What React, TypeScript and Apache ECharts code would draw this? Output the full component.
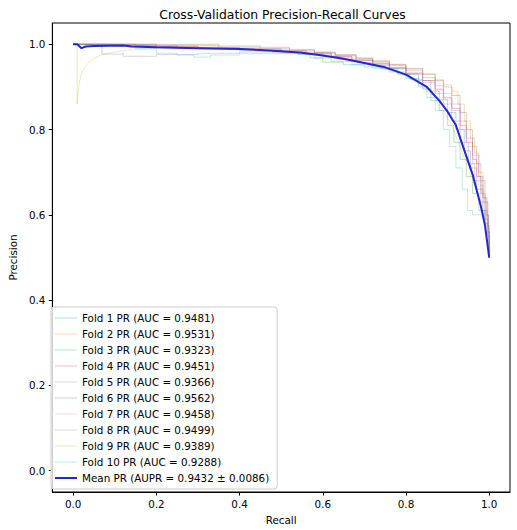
import React, { useEffect, useRef } from "react";
import * as echarts from "echarts";

// Per-fold precision/recall points as [recall, precision]
const fold1: number[][] = [[0,1],[0.05,1],[0.1,0.998],[0.18,0.995],[0.25,0.992],[0.33,0.99],[0.4,0.988],[0.45,0.986],[0.5,0.982],[0.55,0.978],[0.6,0.972],[0.64,0.965],[0.68,0.958],[0.72,0.95],[0.76,0.943],[0.8,0.93],[0.83,0.915],[0.86,0.89],[0.88,0.87],[0.9,0.84],[0.92,0.8],[0.94,0.75],[0.955,0.71],[0.97,0.66],[0.985,0.61],[0.995,0.575],[1,0.5]];
const fold2: number[][] = [[0,1],[0.08,1],[0.15,0.997],[0.25,0.994],[0.35,0.99],[0.45,0.987],[0.52,0.984],[0.58,0.979],[0.63,0.973],[0.68,0.966],[0.72,0.96],[0.76,0.952],[0.8,0.942],[0.84,0.93],[0.87,0.917],[0.89,0.905],[0.91,0.89],[0.925,0.86],[0.94,0.82],[0.955,0.78],[0.965,0.745],[0.975,0.7],[0.985,0.64],[0.993,0.59],[0.998,0.555],[1,0.5]];
const fold3: number[][] = [[0,1],[0.06,1],[0.12,0.997],[0.2,0.994],[0.3,0.99],[0.4,0.986],[0.48,0.982],[0.54,0.977],[0.57,0.968],[0.6,0.958],[0.65,0.952],[0.7,0.947],[0.74,0.942],[0.78,0.93],[0.81,0.918],[0.84,0.895],[0.86,0.868],[0.88,0.845],[0.9,0.81],[0.915,0.77],[0.93,0.73],[0.945,0.69],[0.96,0.65],[0.975,0.61],[0.99,0.58],[0.997,0.55],[1,0.5]];
const fold4: number[][] = [[0,1],[0.1,1],[0.2,0.996],[0.3,0.992],[0.4,0.989],[0.5,0.985],[0.56,0.98],[0.62,0.972],[0.67,0.963],[0.72,0.955],[0.76,0.945],[0.8,0.932],[0.84,0.915],[0.87,0.895],[0.89,0.875],[0.91,0.85],[0.93,0.81],[0.945,0.77],[0.96,0.73],[0.97,0.69],[0.98,0.65],[0.99,0.6],[0.997,0.56],[1,0.5]];
const fold5: number[][] = [[0,1],[0.069,0.997],[0.069,0.977],[0.12,0.979],[0.12,0.972],[0.2,0.976],[0.3,0.979],[0.4,0.982],[0.5,0.981],[0.56,0.977],[0.62,0.97],[0.67,0.962],[0.72,0.953],[0.76,0.944],[0.8,0.93],[0.84,0.91],[0.87,0.885],[0.89,0.86],[0.91,0.82],[0.93,0.77],[0.95,0.72],[0.965,0.68],[0.98,0.63],[0.99,0.59],[0.997,0.55],[1,0.5]];
const fold6: number[][] = [[0,1],[0.3,1],[0.35,0.996],[0.45,0.993],[0.52,0.988],[0.58,0.982],[0.63,0.976],[0.68,0.968],[0.72,0.961],[0.76,0.953],[0.8,0.943],[0.84,0.93],[0.87,0.915],[0.89,0.9],[0.91,0.88],[0.93,0.84],[0.945,0.8],[0.96,0.76],[0.97,0.72],[0.98,0.68],[0.99,0.63],[0.997,0.57],[1,0.5]];
const fold7: number[][] = [[0,1],[0.12,1],[0.2,0.995],[0.3,0.992],[0.4,0.989],[0.5,0.984],[0.56,0.979],[0.62,0.971],[0.67,0.963],[0.72,0.954],[0.76,0.945],[0.8,0.933],[0.84,0.915],[0.87,0.893],[0.89,0.872],[0.91,0.845],[0.93,0.8],[0.945,0.76],[0.96,0.72],[0.975,0.67],[0.985,0.63],[0.995,0.6],[0.998,0.56],[1,0.5]];
const fold8: number[][] = [[0,1],[0.15,0.998],[0.25,0.997],[0.35,0.993],[0.45,0.99],[0.52,0.986],[0.58,0.98],[0.63,0.974],[0.68,0.966],[0.72,0.958],[0.76,0.95],[0.8,0.938],[0.84,0.922],[0.87,0.903],[0.89,0.885],[0.91,0.86],[0.93,0.82],[0.945,0.78],[0.96,0.74],[0.975,0.69],[0.985,0.64],[0.995,0.6],[0.998,0.56],[1,0.5]];
const fold9: number[][] = [[0,1],[0.0095,1],[0.0095,0.86],[0.012,0.89],[0.016,0.915],[0.02,0.93],[0.025,0.942],[0.035,0.955],[0.05,0.967],[0.07,0.976],[0.1,0.982],[0.125,0.986],[0.2,0.99],[0.3,0.99],[0.4,0.989],[0.45,0.987],[0.52,0.983],[0.58,0.976],[0.63,0.968],[0.68,0.958],[0.72,0.95],[0.76,0.94],[0.8,0.925],[0.84,0.9],[0.87,0.87],[0.89,0.845],[0.91,0.81],[0.93,0.76],[0.95,0.71],[0.965,0.67],[0.98,0.62],[0.99,0.59],[0.997,0.55],[1,0.5]];
const fold10: number[][] = [[0,1],[0.08,0.998],[0.15,0.99],[0.2,0.979],[0.25,0.975],[0.29,0.97],[0.33,0.975],[0.4,0.978],[0.48,0.979],[0.54,0.976],[0.58,0.968],[0.62,0.96],[0.67,0.952],[0.72,0.944],[0.76,0.935],[0.8,0.92],[0.83,0.9],[0.85,0.875],[0.87,0.845],[0.89,0.8],[0.905,0.76],[0.92,0.71],[0.935,0.66],[0.948,0.61],[0.96,0.6],[0.985,0.598],[0.99,0.56],[1,0.5]];

// Mean curve over the interpolated recall grid
const meanPR: number[][] = [[0,1],[0.01,1],[0.02,0.991],[0.03,0.995],[0.05,0.996],[0.12,0.997],[0.14,0.995],[0.2,0.993],[0.3,0.991],[0.4,0.989],[0.5,0.984],[0.55,0.98],[0.6,0.974],[0.65,0.966],[0.7,0.956],[0.75,0.946],[0.8,0.929],[0.85,0.9],[0.88,0.868],[0.9,0.842],[0.92,0.81],[0.94,0.752],[0.96,0.695],[0.98,0.62],[0.99,0.575],[1,0.5]];

const foldAUC: string[] = ["0.9481","0.9531","0.9323","0.9451","0.9366","0.9562","0.9458","0.9499","0.9389","0.9288"];
const meanAUPR = "0.9432";
const stdAUPR = "0.0086";
const foldColors: string[] = ["#1f77b4","#ff7f0e","#2ca02c","#d62728","#9467bd","#8c564b","#e377c2","#7f7f7f","#bcbd22","#17becf"];
const tickValues: number[] = [0, 0.2, 0.4, 0.6, 0.8, 1.0];

const folds = [fold1, fold2, fold3, fold4, fold5, fold6, fold7, fold8, fold9, fold10];

// Legend handles: a horizontal band inside a fixed 22x12 box
const thinHandle = "path://M0,0 L0.01,0 L0.01,0.01 Z M0,5.5 L22,5.5 L22,6.5 L0,6.5 Z M22,12 L21.99,12 L21.99,11.99 Z";
const thickHandle = "path://M0,0 L0.01,0 L0.01,0.01 Z M0,5 L22,5 L22,7 L0,7 Z M22,12 L21.99,12 L21.99,11.99 Z";

export default function App() {
  const ref = useRef<HTMLDivElement>(null);
  useEffect(() => {
    if (!ref.current) return;
    const chart = echarts.init(ref.current, null, { renderer: "svg" });
    const font = "DejaVu Sans";
    const fs = 10.35;
    const meanColor = "#2424d8";
    const foldSeries = folds.map((d, i) => ({
      type: "line",
      name: `Fold ${i + 1} PR (AUC = ${foldAUC[i]})`,
      data: d,
      showSymbol: false,
      symbol: "none",
      step: i === 8 ? false : "end",
      lineStyle: { color: foldColors[i], width: 1, opacity: 0.3 },
      itemStyle: { color: foldColors[i], opacity: 0.3 },
      z: 2,
    }));
    const meanName = `Mean PR (AUPR = ${meanAUPR} ± ${stdAUPR})`;
    const axisCommon = {
      type: "value",
      axisLine: { show: true, onZero: false, lineStyle: { color: "#000", width: 1 } },
      axisTick: { show: true, inside: false, length: 3.6, lineStyle: { color: "#000" }, customValues: tickValues },
      axisLabel: {
        color: "#000", fontSize: fs, fontFamily: font, margin: 7,
        customValues: tickValues,
        formatter: (v: number) => v.toFixed(1),
      },
      splitLine: { show: false },
      nameLocation: "middle",
      nameTextStyle: { color: "#000", fontSize: fs, fontFamily: font },
    };
    chart.setOption({
      animation: false,
      textStyle: { fontFamily: font },
      title: {
        text: "Cross-Validation Precision-Recall Curves",
        left: 277.5,
        textAlign: "center",
        top: 3,
        textStyle: { fontSize: 12.4, fontWeight: "normal", color: "#000", fontFamily: font },
      },
      grid: { left: 45, right: 7, top: 23, bottom: 36, show: true, borderColor: "#000", borderWidth: 1, backgroundColor: "transparent" },
      xAxis: { ...axisCommon, min: -0.05, max: 1.05, name: "Recall", nameGap: 23 },
      yAxis: { ...axisCommon, min: -0.05, max: 1.05, name: "Precision", nameGap: 27 },
      legend: {
        orient: "vertical",
        left: 51,
        top: 307,
        itemWidth: 22,
        itemHeight: 12,
        itemGap: 4,
        itemTextGap: 9,
        padding: [5, 8, 5, 4],
        backgroundColor: "rgba(255,255,255,0.8)",
        borderColor: "#cccccc",
        borderWidth: 1,
        borderRadius: 3,
        textStyle: { fontSize: fs, color: "#000", fontFamily: font },
        data: [
          ...foldSeries.map((s, i) => ({ name: s.name, icon: thinHandle, itemStyle: { color: foldColors[i], opacity: 0.3 } })),
          { name: meanName, icon: thickHandle, itemStyle: { color: meanColor, opacity: 1 } },
        ],
      },
      series: [
        ...foldSeries,
        {
          type: "line",
          name: meanName,
          data: meanPR,
          showSymbol: false,
          symbol: "none",
          lineStyle: { color: meanColor, width: 2 },
          itemStyle: { color: meanColor },
          z: 3,
        },
      ],
    });
    return () => chart.dispose();
  }, []);
  return <div ref={ref} style={{ width: 517, height: 530, position: "absolute", left: 0, top: 0 }} />;
}
